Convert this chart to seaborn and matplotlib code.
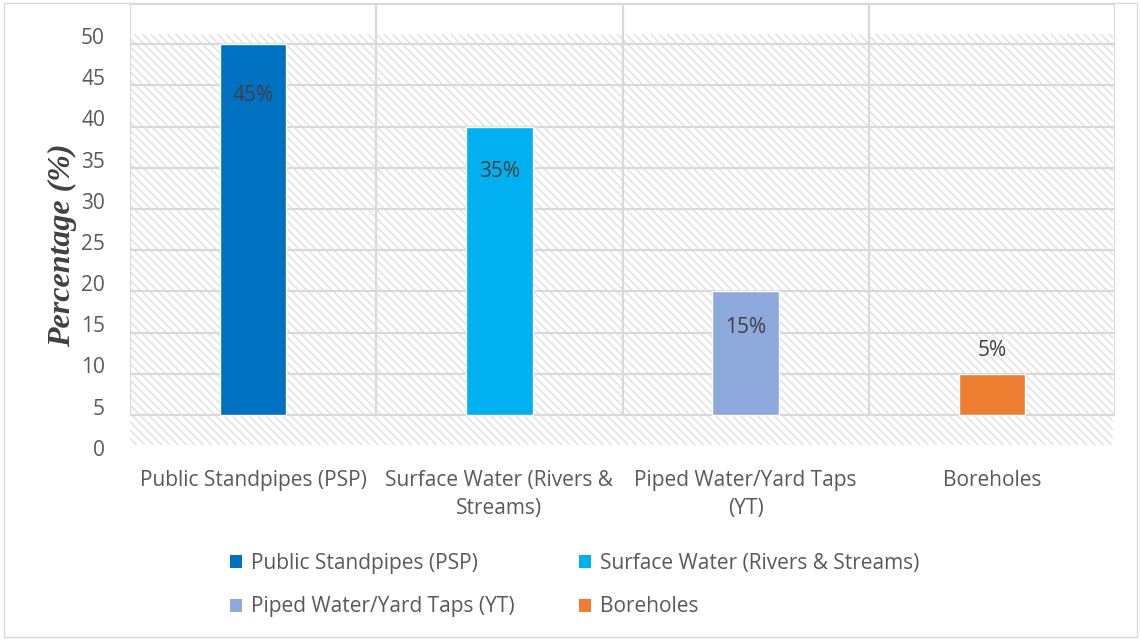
import matplotlib
matplotlib.use("Agg")
import matplotlib.pyplot as plt
import seaborn as sns
import pandas as pd
from matplotlib.patches import Rectangle, Patch

# Main sources of domestic water
sources = ["Public Standpipes (PSP)", "Surface Water (Rivers & Streams)",
           "Piped Water/Yard Taps (YT)", "Boreholes"]
axis_labels = ["Public Standpipes (PSP)", "Surface Water (Rivers &\nStreams)",
               "Piped Water/Yard Taps\n(YT)", "Boreholes"]
shares = [45, 35, 15, 5]
value_labels = ["45%", "35%", "15%", "5%"]
colors = ["#0070C0", "#00B0F0", "#8EA9DB", "#ED7D31"]
y_tick_values = list(range(0, 55, 5))

sns.set_theme(style="white")
plt.rcParams["font.family"] = ["Open Sans", "DejaVu Sans"]
plt.rcParams["hatch.linewidth"] = 1.1

W, H = 1141, 640
fig = plt.figure(figsize=(W / 100, H / 100), dpi=100)
ax = fig.add_axes([130 / W, 188 / H, 985 / W, 449 / H])
YLO, YHI = -4.5, 50
ax.set_xlim(-0.5, 3.5)
ax.set_ylim(YLO, YHI)

grid_c = "#d9d9d9"
text_c = "#595959"

# patterned plot background
ax.add_patch(Rectangle((-0.51, -3.6), 4.0, 49.8, facecolor="white",
                       edgecolor="#e2e2e2", hatch="\\\\\\\\", lw=0, zorder=0))

# grid: horizontal lines every 5, category dividers
ax.hlines(list(range(0, 50, 5)), -0.5, 3.5, color=grid_c, lw=1.6, zorder=1)
ax.hlines([50], -0.5, 3.5, color=grid_c, lw=2.2, zorder=1)
ax.vlines([-0.5, 0.5, 1.5, 2.5, 3.5], 0, 50, color=grid_c, lw=1.6, zorder=1)

df = pd.DataFrame({"source": sources, "share": shares})
sns.barplot(data=df, x="source", y="share", hue="source", palette=colors,
            width=0.27, saturation=1, legend=False, ax=ax, zorder=3)

ax.set_xlim(-0.5, 3.5)
ax.set_ylim(YLO, YHI)
ax.set_xlabel("")
ax.set_ylabel("")
ax.set_xticks(range(len(sources)), axis_labels)
ax.tick_params(axis="x", length=0, pad=13, labelsize=15, labelcolor=text_c)
for t in ax.get_xticklabels():
    t.set_linespacing(1.45)
ax.set_yticks([])
for s in ax.spines.values():
    s.set_visible(False)

# y tick labels
sec = ax.secondary_yaxis("left", functions=(lambda y: y + 4, lambda y: y - 4))
sec.set_yticks(y_tick_values)
sec.tick_params(length=0, pad=18, labelsize=15, labelcolor=text_c)
sec.spines["left"].set_visible(False)

# value labels
offsets_pt = [-37, -32, -26, 17]
for i, (v, lab) in enumerate(zip(shares, value_labels)):
    ax.annotate(lab, (i, v), xytext=(0, offsets_pt[i]), textcoords="offset points",
                ha="center", va="center", fontsize=15, color="#404040", zorder=4)

fig.text(62 / W, 1 - 245 / H, "Percentage (%)", rotation=90, ha="center", va="center",
         family="Liberation Serif", weight="bold", style="italic", fontsize=23,
         color="#404040")

handles = [Patch(facecolor=c, edgecolor="none") for c in colors]
order = [0, 2, 1, 3]
fig.legend([handles[i] for i in order], [sources[i] for i in order], ncol=2,
           loc="center left", bbox_to_anchor=(211 / W, 1 - 585 / H), frameon=False,
           handlelength=0.6, handleheight=0.6, handletextpad=0.4,
           columnspacing=3.1, labelspacing=1.1, fontsize=15, labelcolor=text_c)

fig.add_artist(Rectangle((4 / W, 3 / H), 1133 / W, 634 / H, transform=fig.transFigure,
                         fill=False, edgecolor=grid_c, lw=1))

fig.savefig("out.png", dpi=100)
